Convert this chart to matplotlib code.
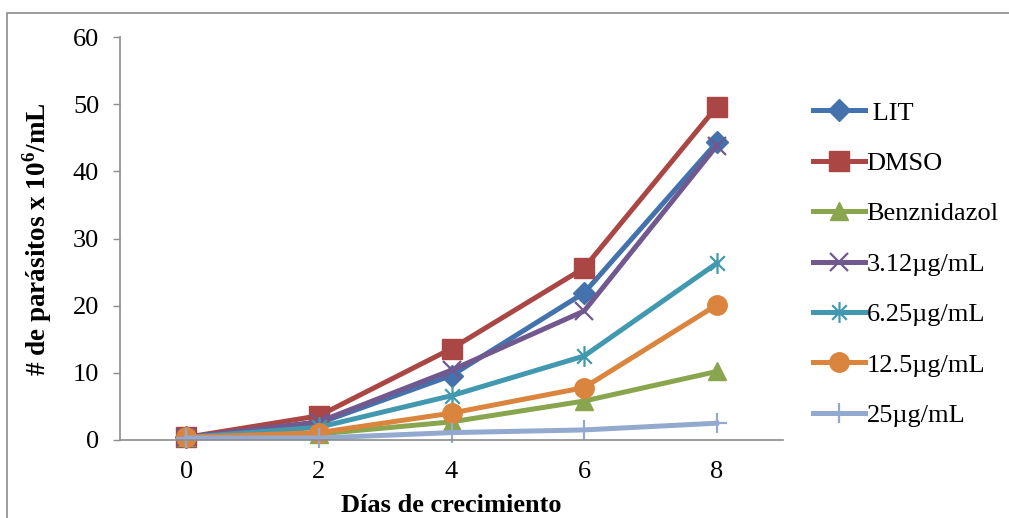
import matplotlib
matplotlib.use("Agg")
import matplotlib.pyplot as plt
from matplotlib.path import Path
from matplotlib.patches import Rectangle

plt.rcParams['font.family'] = ['Liberation Serif', 'DejaVu Serif']
plt.rcParams['mathtext.fontset'] = 'custom'
plt.rcParams['mathtext.rm'] = 'Liberation Serif'
plt.rcParams['mathtext.bf'] = 'Liberation Serif:bold'

days = [0, 2, 4, 6, 8]
lit = [0.4, 2.5, 9.6, 21.9, 44.3]
dmso = [0.4, 3.6, 13.6, 25.6, 49.6]
benz = [0.4, 0.9, 2.7, 5.8, 10.2]
c312 = [0.4, 2.7, 10.4, 19.2, 43.8]
c625 = [0.4, 1.9, 6.6, 12.5, 26.3]
c125 = [0.4, 1.1, 4.0, 7.8, 20.1]
c25 = [0.3, 0.3, 1.1, 1.5, 2.5]
labels = [' LIT', 'DMSO', 'Benznidazol', '3.12µg/mL', '6.25µg/mL', '12.5µg/mL', '25µg/mL']
yticks = [0, 10, 20, 30, 40, 50, 60]

star = Path([(-0.7, -0.7), (0.7, 0.7), (-0.7, 0.7), (0.7, -0.7), (0, -1), (0, 1)],
            [Path.MOVETO, Path.LINETO, Path.MOVETO, Path.LINETO, Path.MOVETO, Path.LINETO])

series = [lit, dmso, benz, c312, c625, c125, c25]
colors = ['#4372AC', '#AA4643', '#89A54E', '#71588F', '#4198AF', '#DB843D', '#93A9CF']
markers = ['D', 's', '^', 'x', star, 'o', '+']
msizes = [11, 14, 13, 13, 15, 14, 15]

FS = 19

fig = plt.figure(figsize=(10.09, 5.18), dpi=100)
fig.patches.append(Rectangle((7/1009, -0.1), 1.2, 1 - 13/518 + 0.1, transform=fig.transFigure,
                             fill=False, edgecolor='#8c8c8c', linewidth=1.2))
ax = fig.add_axes([120/1009, 1 - 440/518, (783-120)/1009, (440-37)/518])

for vals, col, mk, ms, lab in zip(series, colors, markers, msizes, labels):
    ax.plot(days, vals, color=col, marker=mk, markersize=ms, linewidth=3.6,
            markeredgewidth=1.6 if mk in ('x', '+') or mk is star else 1.0,
            markeredgecolor=col, markerfacecolor=col, label=lab, clip_on=False)

ax.set_xlim(-1, 9)
ax.set_ylim(0, 60)
ax.set_xticks(days)
ax.set_yticks(yticks)
ax.tick_params(axis='x', length=0, pad=15, labelsize=FS)
ax.tick_params(axis='y', length=5, width=1, color='#8c8c8c', pad=10, labelsize=FS)
for s in ['top', 'right']:
    ax.spines[s].set_visible(False)
for s in ['left', 'bottom']:
    ax.spines[s].set_color('#8c8c8c')
    ax.spines[s].set_linewidth(1.2)

ax.set_xlabel('Días de crecimiento', fontsize=FS, fontweight='bold', labelpad=8)
fig.text(37/1009, 1 - 239/518, r'# de parásitos x 10$^{\mathbf{6}}$/mL', rotation=90,
         fontsize=19.5, fontweight='bold', ha='center', va='center')

leg = fig.legend(loc='upper left', bbox_to_anchor=(800/1009, 1 - 88/518), frameon=False,
                 fontsize=FS, handlelength=1.97, handletextpad=0.05, labelspacing=1.02,
                 borderpad=0)

fig.savefig('out.png', dpi=100)
